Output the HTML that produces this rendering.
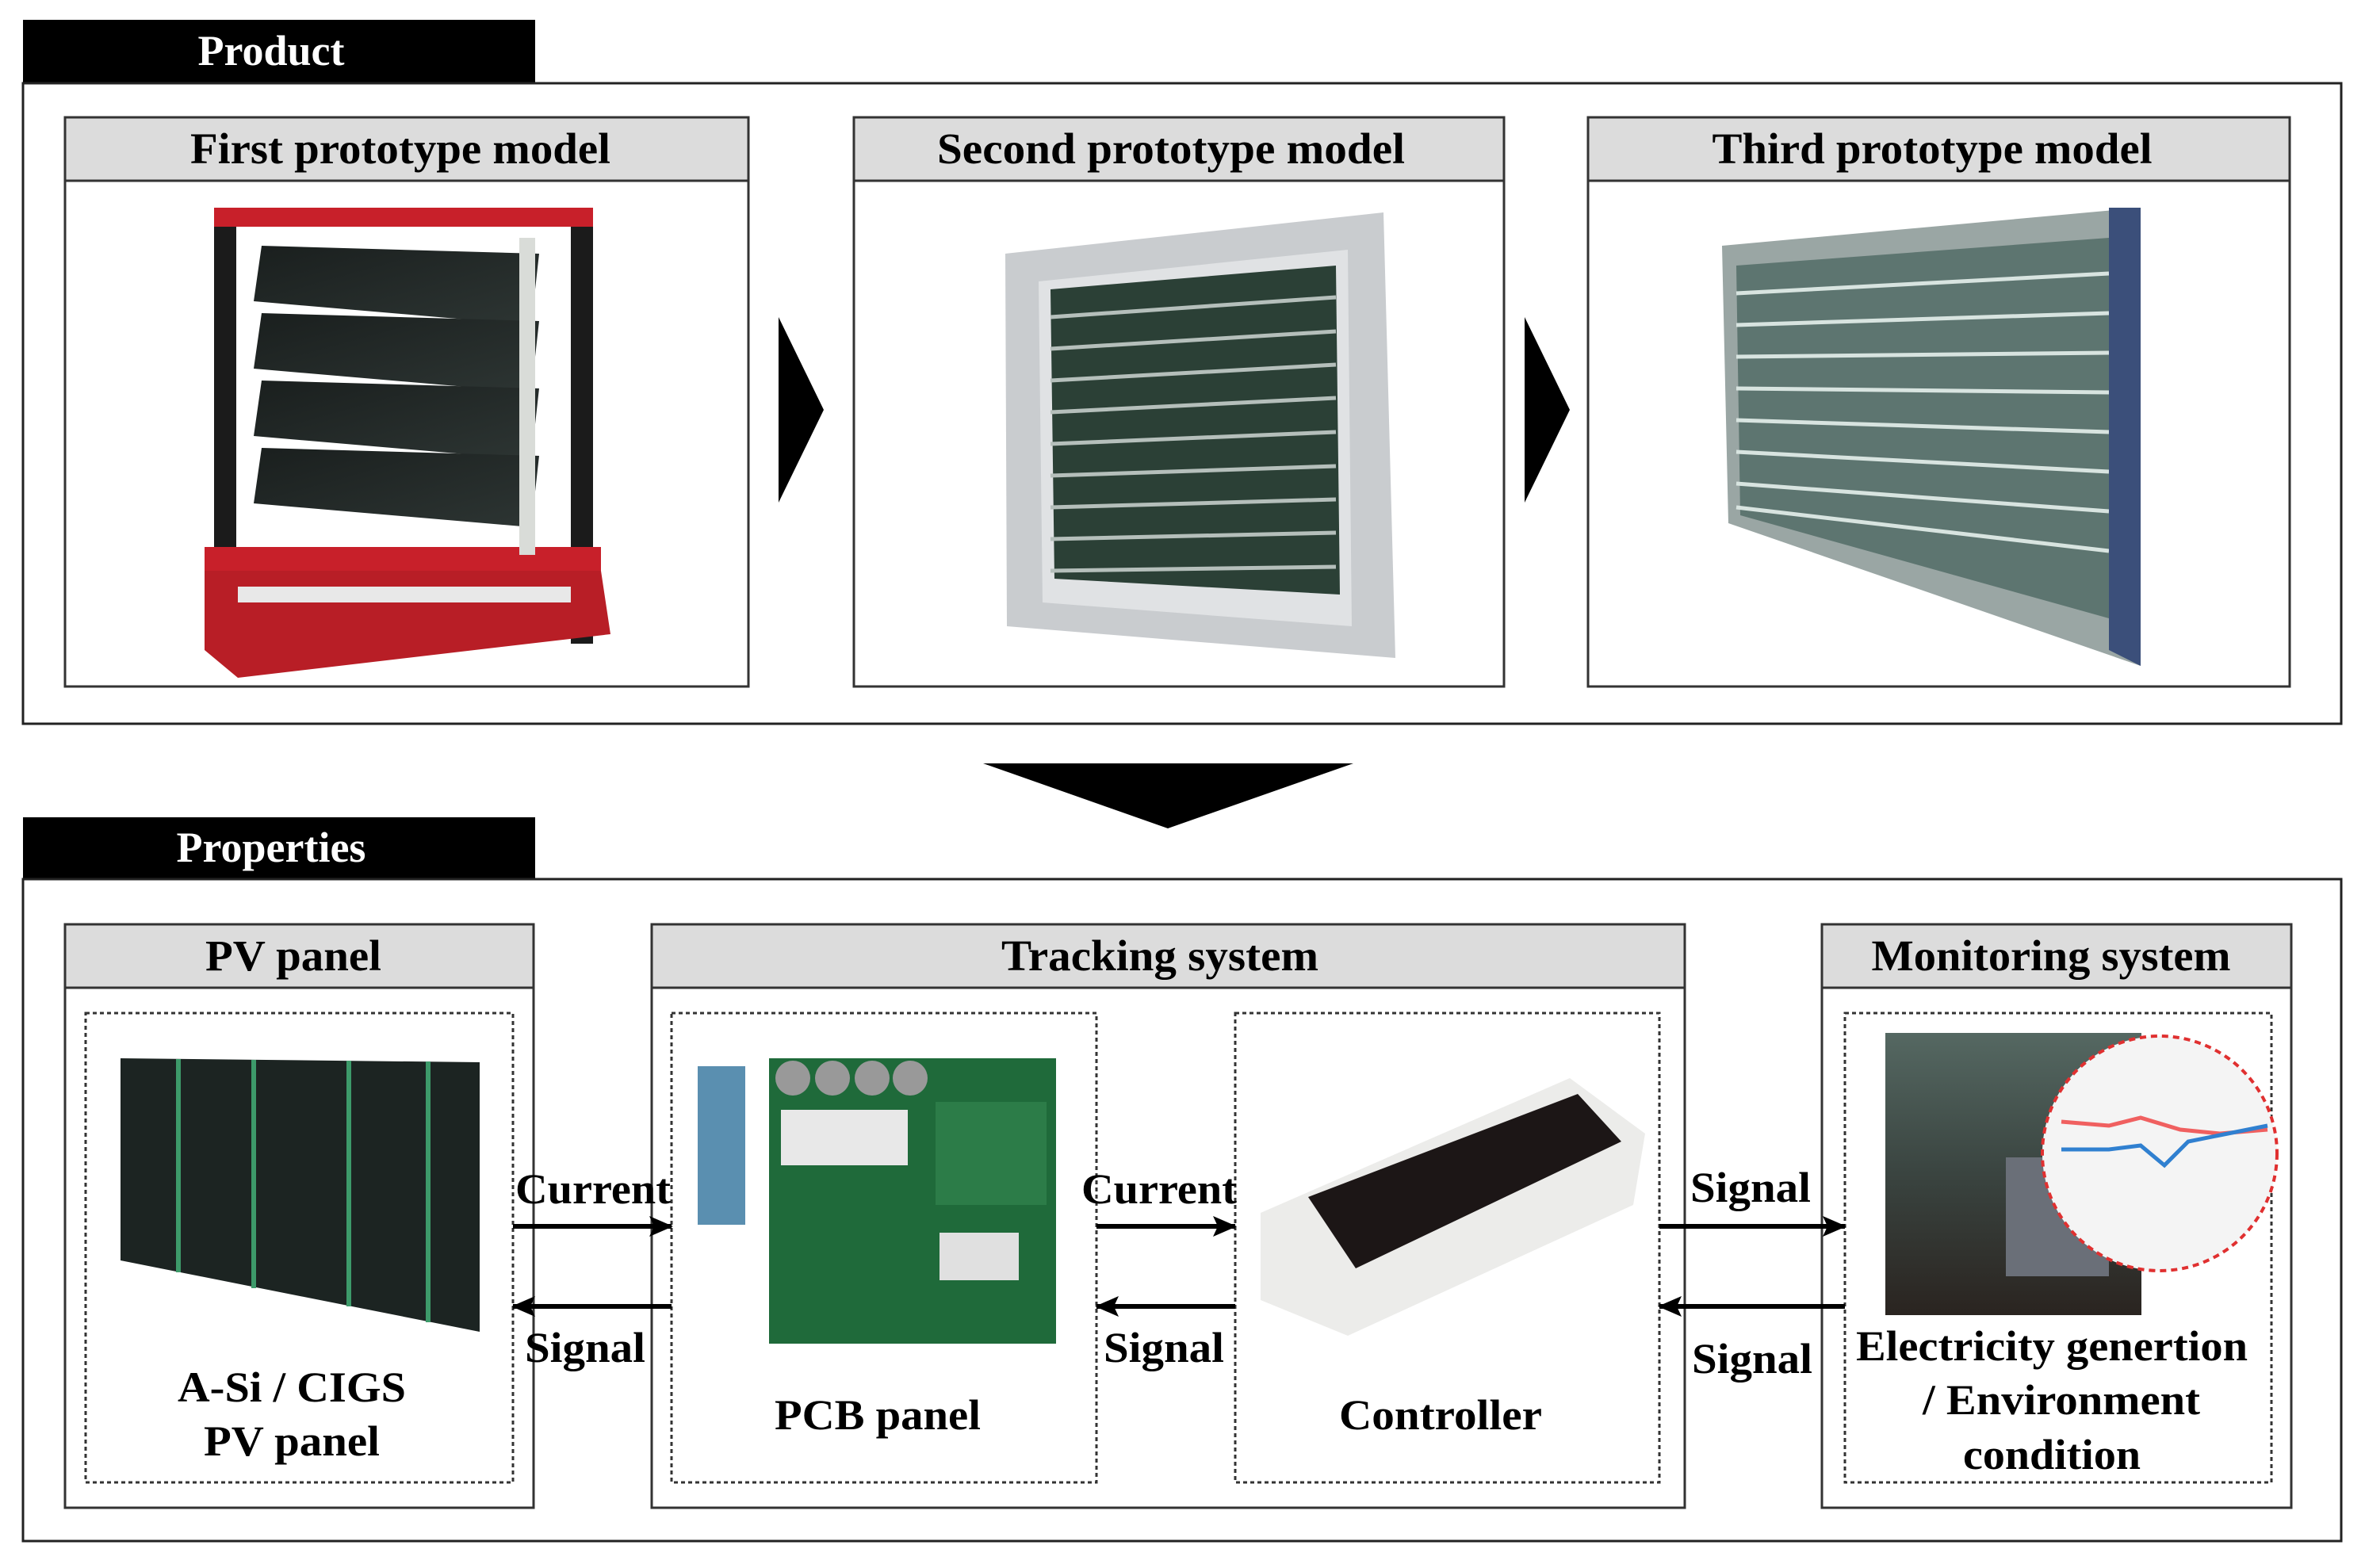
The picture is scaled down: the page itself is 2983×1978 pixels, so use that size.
<!DOCTYPE html>
<html><head><meta charset="utf-8"><style>
html,body{margin:0;padding:0;background:#fff;}
svg{display:block;}
text{font-family:"Liberation Serif",serif;font-weight:bold;}
</style></head><body>
<svg width="2983" height="1978" viewBox="0 0 2983 1978" xmlns="http://www.w3.org/2000/svg">
<defs>
<marker id="ah" markerWidth="30" markerHeight="30" refX="28" refY="15" orient="auto" markerUnits="userSpaceOnUse" viewBox="0 0 30 30"><path d="M0,2 L30,15 L0,28 L6,15 z" fill="#000"/></marker>
<linearGradient id="dark" x1="0" y1="0" x2="1" y2="1"><stop offset="0" stop-color="#1a1f1e"/><stop offset="1" stop-color="#2d3533"/></linearGradient>
<linearGradient id="mon" x1="0" y1="0" x2="0" y2="1"><stop offset="0" stop-color="#556862"/><stop offset="0.5" stop-color="#3a4440"/><stop offset="1" stop-color="#2a2420"/></linearGradient>
</defs>

<rect x="29" y="25" width="646" height="80" fill="#000"/>
<text x="342" y="82" font-size="54" fill="#fff" text-anchor="middle">Product</text>
<rect x="29" y="105" width="2924" height="808" fill="none" stroke="#222" stroke-width="3"/>

<g stroke="#333" stroke-width="3">
<rect x="82" y="148" width="862" height="718" fill="#fff"/>
<rect x="82" y="148" width="862" height="80" fill="#dcdcdc"/>
<rect x="1077" y="148" width="820" height="718" fill="#fff"/>
<rect x="1077" y="148" width="820" height="80" fill="#dcdcdc"/>
<rect x="2003" y="148" width="885" height="718" fill="#fff"/>
<rect x="2003" y="148" width="885" height="80" fill="#dcdcdc"/>
</g>
<g font-size="55" text-anchor="middle">
<text x="505" y="206" textLength="530" lengthAdjust="spacingAndGlyphs">First prototype model</text>
<text x="1477" y="206" textLength="590" lengthAdjust="spacingAndGlyphs">Second prototype model</text>
<text x="2437" y="206" textLength="555" lengthAdjust="spacingAndGlyphs">Third prototype model</text>
</g>

<g>
<rect x="270" y="262" width="28" height="560" fill="#1b1b1b"/>
<rect x="720" y="272" width="28" height="540" fill="#1b1b1b"/>
<rect x="270" y="262" width="478" height="24" fill="#c8202a"/>
<rect x="258" y="690" width="500" height="30" fill="#c8202a"/>
<polygon points="258,720 758,720 770,800 300,855 258,820" fill="#b81e26"/>
<rect x="300" y="740" width="420" height="20" fill="#e8e8e8"/>
<polygon points="330,310 680,320 670,410 320,380" fill="url(#dark)"/>
<polygon points="330,395 680,405 670,495 320,465" fill="url(#dark)"/>
<polygon points="330,480 680,490 670,580 320,550" fill="url(#dark)"/>
<polygon points="330,565 680,575 670,665 320,635" fill="url(#dark)"/>
<rect x="655" y="300" width="20" height="400" fill="#d9dcd8"/>
</g>

<g>
<polygon points="1268,320 1745,268 1760,830 1270,790" fill="#c9cccf"/>
<polygon points="1310,355 1700,315 1705,790 1315,760" fill="#e0e2e4"/>
<polygon points="1325,365 1685,335 1690,750 1330,730" fill="#2b4036"/>
<g stroke="#b5bfbb" stroke-width="5">
<line x1="1325" y1="400" x2="1685" y2="375"/><line x1="1325" y1="440" x2="1685" y2="418"/>
<line x1="1325" y1="480" x2="1685" y2="460"/><line x1="1325" y1="520" x2="1685" y2="502"/>
<line x1="1325" y1="560" x2="1685" y2="545"/><line x1="1325" y1="600" x2="1685" y2="588"/>
<line x1="1325" y1="640" x2="1685" y2="630"/><line x1="1325" y1="680" x2="1685" y2="672"/>
<line x1="1325" y1="720" x2="1685" y2="715"/>
</g>
</g>

<g>
<polygon points="2172,310 2700,262 2700,840 2180,660" fill="#9aa6a4"/>
<polygon points="2190,335 2660,300 2660,780 2195,650" fill="#5d7570"/>
<g stroke="#d8e4e0" stroke-width="5">
<line x1="2190" y1="370" x2="2660" y2="345"/><line x1="2190" y1="410" x2="2660" y2="395"/>
<line x1="2190" y1="450" x2="2660" y2="445"/><line x1="2190" y1="490" x2="2660" y2="495"/>
<line x1="2190" y1="530" x2="2660" y2="545"/><line x1="2190" y1="570" x2="2660" y2="595"/>
<line x1="2190" y1="610" x2="2660" y2="645"/><line x1="2190" y1="640" x2="2660" y2="695"/>
</g>
<polygon points="2660,262 2700,262 2700,840 2660,820" fill="#3b4f7a"/>
</g>

<polygon points="982,400 1039,517 982,634" fill="#000"/>
<polygon points="1923,400 1980,517 1923,634" fill="#000"/>
<polygon points="1240,963 1707,963 1473,1045" fill="#000"/>

<rect x="29" y="1031" width="646" height="78" fill="#000"/>
<text x="342" y="1087" font-size="54" fill="#fff" text-anchor="middle">Properties</text>
<rect x="29" y="1109" width="2924" height="835" fill="none" stroke="#222" stroke-width="3"/>

<g stroke="#333" stroke-width="3">
<rect x="82" y="1166" width="591" height="736" fill="#fff"/>
<rect x="82" y="1166" width="591" height="80" fill="#dcdcdc"/>
<rect x="822" y="1166" width="1303" height="736" fill="#fff"/>
<rect x="822" y="1166" width="1303" height="80" fill="#dcdcdc"/>
<rect x="2298" y="1166" width="592" height="736" fill="#fff"/>
<rect x="2298" y="1166" width="592" height="80" fill="#dcdcdc"/>
</g>
<g font-size="55" text-anchor="middle">
<text x="370" y="1224" textLength="222" lengthAdjust="spacingAndGlyphs">PV panel</text>
<text x="1463" y="1224" textLength="400" lengthAdjust="spacingAndGlyphs">Tracking system</text>
<text x="2587" y="1224" textLength="453" lengthAdjust="spacingAndGlyphs">Monitoring system</text>
</g>

<g fill="none" stroke="#333" stroke-width="3" stroke-dasharray="5,4">
<rect x="108" y="1278" width="539" height="592"/>
<rect x="847" y="1278" width="536" height="592"/>
<rect x="1558" y="1278" width="535" height="592"/>
<rect x="2327" y="1278" width="538" height="592"/>
</g>

<polygon points="152,1335 605,1340 605,1680 152,1590" fill="#1c2422"/>
<g stroke="#3d9a6a" stroke-width="6">
<line x1="225" y1="1336" x2="225" y2="1605"/><line x1="320" y1="1337" x2="320" y2="1625"/>
<line x1="440" y1="1338" x2="440" y2="1648"/><line x1="540" y1="1339" x2="540" y2="1668"/>
</g>

<rect x="880" y="1345" width="60" height="200" fill="#5a8fb0"/>
<rect x="970" y="1335" width="362" height="360" fill="#1f6a3a"/>
<rect x="985" y="1400" width="160" height="70" fill="#e8e8e8"/>
<rect x="1180" y="1390" width="140" height="130" fill="#2c7c48"/>
<circle cx="1000" cy="1360" r="22" fill="#999"/><circle cx="1050" cy="1360" r="22" fill="#999"/>
<circle cx="1100" cy="1360" r="22" fill="#999"/><circle cx="1148" cy="1360" r="22" fill="#999"/>
<rect x="1185" y="1555" width="100" height="60" fill="#e0e0e0"/>

<polygon points="1590,1530 1980,1360 2075,1430 2060,1520 1700,1685 1590,1640" fill="#ececea"/>
<polygon points="1650,1510 1990,1380 2045,1440 1710,1600" fill="#1c1616"/>

<rect x="2378" y="1303" width="323" height="356" fill="url(#mon)"/>
<rect x="2530" y="1460" width="130" height="150" fill="#6a6f78"/>
<circle cx="2724" cy="1455" r="148" fill="#f4f4f4" stroke="#e03030" stroke-width="4" stroke-dasharray="8,6"/>
<polyline points="2600,1415 2660,1420 2700,1410 2750,1425 2800,1430 2860,1425" fill="none" stroke="#f06060" stroke-width="5"/>
<polyline points="2600,1450 2660,1450 2700,1445 2730,1470 2760,1440 2810,1430 2860,1420" fill="none" stroke="#3080d0" stroke-width="5"/>

<g stroke="#000" stroke-width="6" fill="none">
<line x1="647" y1="1547" x2="847" y2="1547" marker-end="url(#ah)"/>
<line x1="847" y1="1648" x2="647" y2="1648" marker-end="url(#ah)"/>
<line x1="1383" y1="1547" x2="1558" y2="1547" marker-end="url(#ah)"/>
<line x1="1558" y1="1648" x2="1383" y2="1648" marker-end="url(#ah)"/>
<line x1="2093" y1="1547" x2="2327" y2="1547" marker-end="url(#ah)"/>
<line x1="2327" y1="1648" x2="2093" y2="1648" marker-end="url(#ah)"/>
</g>
<g font-size="54" text-anchor="middle">
<text x="748" y="1518" textLength="196" lengthAdjust="spacingAndGlyphs">Current</text>
<text x="738" y="1718" textLength="152" lengthAdjust="spacingAndGlyphs">Signal</text>
<text x="1462" y="1518" textLength="196" lengthAdjust="spacingAndGlyphs">Current</text>
<text x="1468" y="1718" textLength="152" lengthAdjust="spacingAndGlyphs">Signal</text>
<text x="2208" y="1516" textLength="152" lengthAdjust="spacingAndGlyphs">Signal</text>
<text x="2210" y="1732" textLength="152" lengthAdjust="spacingAndGlyphs">Signal</text>
<text x="368" y="1768" textLength="288" lengthAdjust="spacingAndGlyphs">A-Si / CIGS</text>
<text x="368" y="1836" textLength="222" lengthAdjust="spacingAndGlyphs">PV panel</text>
<text x="1107" y="1803" textLength="260" lengthAdjust="spacingAndGlyphs">PCB panel</text>
<text x="1817" y="1803" textLength="256" lengthAdjust="spacingAndGlyphs">Controller</text>
<text x="2588" y="1716" textLength="494" lengthAdjust="spacingAndGlyphs">Electricity genertion</text>
<text x="2600" y="1784" textLength="350" lengthAdjust="spacingAndGlyphs">/ Environment</text>
<text x="2588" y="1853" textLength="224" lengthAdjust="spacingAndGlyphs">condition</text>
</g>
</svg>
</body></html>
